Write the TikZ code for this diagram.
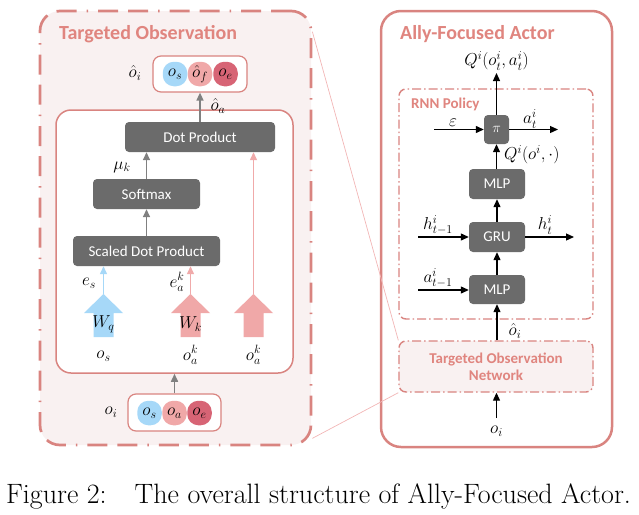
\documentclass[tikz,border=0pt]{standalone}
\usepackage{fontspec}
\newfontfamily\calf{Carlito}
\usetikzlibrary{arrows.meta,calc}
\definecolor{pinkline}{RGB}{217,132,128}
\definecolor{titlepink}{RGB}{224,133,127}
\definecolor{pinkfill}{RGB}{249,241,241}
\definecolor{boxgray}{RGB}{107,107,107}
\definecolor{arrgray}{RGB}{128,128,128}
\definecolor{cblue}{RGB}{166,216,248}
\definecolor{cpink}{RGB}{240,168,168}
\definecolor{cred}{RGB}{215,100,117}
\definecolor{thinpink}{RGB}{240,170,170}
\definecolor{zoompink}{RGB}{242,182,182}
\tikzset{
  bigframe/.style={draw=pinkline, line width=2.7pt, fill=pinkfill, rounded corners=20pt,
    dash pattern=on 20pt off 10pt on 20pt off 10pt on 1.5pt off 10pt, inner sep=0pt},
  actorframe/.style={draw=pinkline, line width=2.5pt, fill=white, rounded corners=20pt, inner sep=0pt},
  innerframe/.style={draw=pinkline, line width=1.5pt, fill=white, rounded corners=15pt, inner sep=0pt},
  obsbox/.style={draw=pinkline, line width=1.2pt, fill=white, rounded corners=8pt, inner sep=0pt},
  dotframe/.style={draw=pinkline, line width=1.4pt, rounded corners=7pt, inner sep=0pt,
    dash pattern=on 9pt off 3pt on 1.5pt off 3pt},
  circ/.style={minimum width=24.5pt, minimum height=24.5pt, rounded corners=11pt, inner sep=0pt,
    font=\fontsize{16.5}{16.5}\selectfont},
  procbox/.style={fill=boxgray, rounded corners=4pt, inner sep=0pt, minimum height=30pt,
    text=white, font=\calf\fontsize{15}{15}\selectfont},
  title/.style={anchor=west, text=titlepink, font=\calf\bfseries\fontsize{20}{20}\selectfont, inner sep=0pt},
  subtitle/.style={text=titlepink, font=\calf\bfseries\fontsize{15}{17}\selectfont, inner sep=0pt, align=center},
  lbl/.style={inner sep=0pt, font=\fontsize{17}{17}\selectfont},
  garrow/.style={draw=arrgray, line width=1.5pt, -{Triangle[width=7pt,length=8pt]}},
  barrow/.style={draw=black, line width=1.2pt, -{Triangle[width=7pt,length=8pt]}},
  tparrow/.style={line width=1.3pt, -{Triangle[width=7pt,length=8pt]}},
  zoomline/.style={draw=zoompink, line width=0.7pt}
}
\begin{document}
\begin{tikzpicture}[x=1pt,y=-1pt]
\useasboundingbox (0,0) rectangle (639,514);

% ---------------- Left: Targeted Observation ----------------
\node[bigframe, minimum width=271pt, minimum height=434pt] (tobox) at (175.5,228) {};
\node[title] (totitle) at (59,34) {Targeted Observation};

\node[innerframe, minimum width=237pt, minimum height=263pt] (inner) at (174.5,241.5) {};

% top observation box
\node[obsbox, minimum width=94pt, minimum height=36pt] (ohat) at (200,74) {};
\node[circ, fill=cblue] (c1) at (175,74) {$o_s$};
\node[circ, fill=cpink] (c2) at (200,74) {$\hat{o}_f$};
\node[circ, fill=cred] (c3) at (225.5,74) {$o_e$};
\node[lbl] (lohat) at (135,73) {$\hat{o}_i$};

% processing boxes
\node[procbox, minimum width=150pt] (dot) at (200,137) {Dot Product};
\node[procbox, minimum width=107pt] (soft) at (146.5,194) {Softmax};
\node[procbox, minimum width=147pt] (sdp) at (146.5,251) {Scaled Dot Product};

\draw[garrow] (dot.north) -- (ohat.south);
\draw[garrow] (soft.north) -- (soft.north |- dot.south);
\draw[garrow] (sdp.north) -- (sdp.north |- soft.south);
\node[lbl] (loa) at (218,106) {$\hat{o}_a$};
\node[lbl] (lmu) at (122,167) {$\mu_k$};

% block arrows
\foreach \cx/\col/\nm in {103.5/cblue/ba1, 190.5/cpink/ba2, 253.5/cpink/ba3}{
  \fill[\col] (\cx-10,337) -- (\cx-10,313) -- (\cx-19.5,313) -- (\cx,294)
     -- (\cx+19.5,313) -- (\cx+10,313) -- (\cx+10,337) -- cycle;
  \coordinate (\nm) at (\cx,294);
}
\node[lbl] (lwq) at (103.5,324) {$W_q$};
\node[lbl] (lwk) at (190.5,324) {$W_k$};

\draw[tparrow, color=cblue] (ba1) -- (ba1 |- sdp.south);
\draw[tparrow, color=thinpink] (ba2) -- (ba2 |- sdp.south);
\draw[tparrow, color=thinpink] (ba3) -- (ba3 |- dot.south);

\node[lbl] (les) at (89,283) {$e_s$};
\node[lbl] (lea) at (177,282) {$e_a^k$};
\node[lbl] (los) at (103.5,356) {$o_s$};
\node[lbl] (loak1) at (190.5,355) {$o_a^k$};
\node[lbl] (loak2) at (253.5,355) {$o_a^k$};

% bottom observation box
\node[obsbox, minimum width=93pt, minimum height=37pt] (obs) at (174.5,412.5) {};
\node[circ, fill=cblue] (d1) at (149.5,413) {$o_s$};
\node[circ, fill=cpink] (d2) at (174.5,413) {$o_a$};
\node[circ, fill=cred] (d3) at (199.5,413) {$o_e$};
\node[lbl] (loi) at (111,412) {$o_i$};
\draw[garrow] (obs.north) -- (inner.south);

% ---------------- Right: Ally-Focused Actor ----------------
\node[actorframe, minimum width=231pt, minimum height=436pt] (actor) at (496.5,229) {};
\node[title] (actitle) at (400,34) {Ally-Focused Actor};

\node[dotframe, minimum width=194pt, minimum height=230pt] (rnn) at (496,204) {};
\node[subtitle, anchor=west] (rnntitle) at (411,104) {RNN Policy};

\node[procbox, minimum width=25pt, minimum height=29pt] (pi) at (496.5,129.5) {$\pi$};
\node[procbox, minimum width=56pt] (mlp1) at (497,184) {MLP};
\node[procbox, minimum width=56pt] (gru) at (497,237) {GRU};
\node[procbox, minimum width=56pt, minimum height=29pt] (mlp2) at (497,289.5) {MLP};

\node[dotframe, fill=pinkfill, minimum width=194pt, minimum height=51pt] (ton) at (496,366.5) {};
\node[subtitle] (tontext) at (496,366.5) {Targeted Observation\\Network};

\coordinate (qout) at (496.5,73);
\coordinate (epsin) at (434,129.5);
\coordinate (aout) at (558,129.5);
\coordinate (hin) at (418,237);
\coordinate (hout) at (574,237);
\coordinate (ain) at (418,290);
\coordinate (oin) at (496.5,418);

\draw[barrow] (pi.north) -- (qout);
\draw[barrow] (epsin) -- (pi.west);
\draw[barrow] (pi.east) -- (aout);
\draw[barrow] (mlp1.north -| pi.south) -- (pi.south);
\draw[barrow] (gru.north) -- (mlp1.south);
\draw[barrow] (hin) -- (gru.west);
\draw[barrow] (gru.east) -- (hout);
\draw[barrow] (mlp2.north) -- (gru.south);
\draw[barrow] (ain) -- (ain -| mlp2.west);
\draw[barrow] (ton.north -| mlp2.south) -- (mlp2.south);
\draw[barrow] (oin) -- (oin |- ton.south);

\node[lbl] (lq) at (496.5,61) {$Q^i(o_t^i,a_t^i)$};
\node[lbl] (leps) at (453,123) {$\varepsilon$};
\node[lbl] (lat) at (530,119) {$a_t^i$};
\node[lbl, anchor=west] (lq2) at (504,155) {$Q^i(o^i,\cdot)$};
\node[lbl] (lht1) at (438,225) {$h_{t-1}^i$};
\node[lbl] (lht) at (545,225) {$h_t^i$};
\node[lbl] (lat1) at (438,278) {$a_{t-1}^i$};
\node[lbl] (loi2) at (515,331) {$\hat{o}_i$};
\node[lbl] (loi3) at (496.5,431) {$o_i$};

% zoom lines
\draw[zoomline] ($(tobox.north east)+(0,22)$) -- (ton.north west);
\draw[zoomline] ($(tobox.south east)+(0,-8)$) -- (ton.south west);

% caption
\node[inner sep=0pt, font=\fontsize{28}{32}\selectfont] (cap) at (318.5,496) {Figure 2:\quad The overall structure of Ally-Focused Actor.};
\end{tikzpicture}
\end{document}
